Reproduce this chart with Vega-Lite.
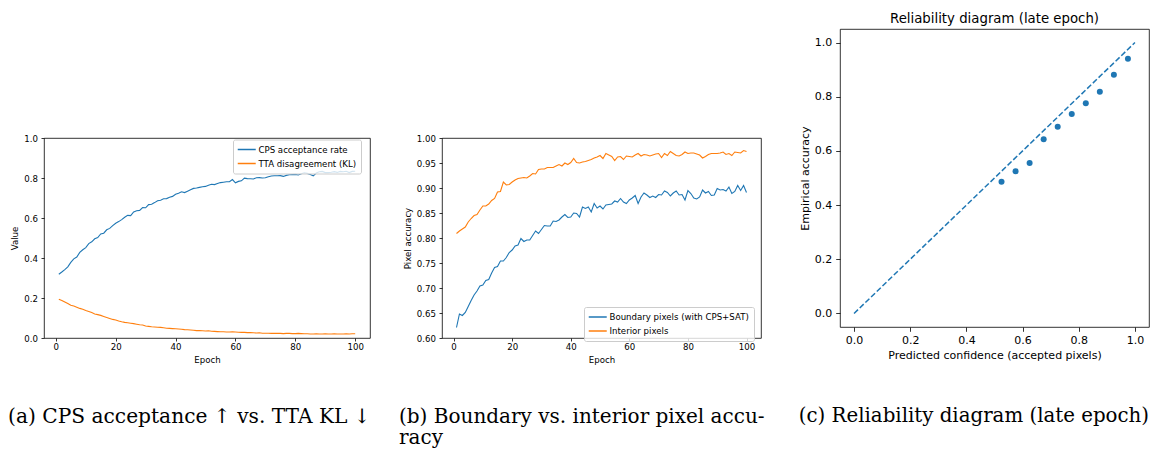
{
"$schema": "https://vega.github.io/schema/vega-lite/v6.json",
"background": "white",
"padding": {"left": 7, "top": 11, "right": 0, "bottom": 0},
"spacing": 33,
"config": {
  "font": "DejaVu Sans",
  "view": {"stroke": "black", "strokeWidth": 0.8},
  "axis": {"domain": false, "grid": false, "labelColor": "black", "titleColor": "black", "tickColor": "black", "tickWidth": 0.8, "titleFontWeight": "normal", "labelFont": "DejaVu Sans", "titleFont": "DejaVu Sans"},
  "title": {"font": "DejaVu Sans", "fontWeight": "normal", "color": "black"},
  "legend": {"title": null, "labelFont": "DejaVu Sans", "labelColor": "black", "strokeColor": "#cccccc", "fillColor": "rgba(255,255,255,0.8)", "cornerRadius": 2, "padding": 4.5, "symbolType": "M-1.17,0H2.83", "symbolStrokeWidth": 1.5, "symbolSize": 81, "labelOffset": 10, "rowPadding": 3, "labelFontSize": 8.6}
},
"datasets": {
  "curves": [
{"epoch":1,"cps":0.319,"kl":0.194,"bd":0.621,"ip":0.809},
{"epoch":2,"cps":0.330,"kl":0.188,"bd":0.648,"ip":0.814},
{"epoch":3,"cps":0.342,"kl":0.180,"bd":0.645,"ip":0.818},
{"epoch":4,"cps":0.356,"kl":0.172,"bd":0.651,"ip":0.822},
{"epoch":5,"cps":0.378,"kl":0.164,"bd":0.663,"ip":0.832},
{"epoch":6,"cps":0.396,"kl":0.160,"bd":0.675,"ip":0.839},
{"epoch":7,"cps":0.405,"kl":0.154,"bd":0.686,"ip":0.845},
{"epoch":8,"cps":0.428,"kl":0.148,"bd":0.694,"ip":0.847},
{"epoch":9,"cps":0.441,"kl":0.144,"bd":0.704,"ip":0.856},
{"epoch":10,"cps":0.452,"kl":0.138,"bd":0.706,"ip":0.864},
{"epoch":11,"cps":0.472,"kl":0.133,"bd":0.715,"ip":0.864},
{"epoch":12,"cps":0.481,"kl":0.127,"bd":0.717,"ip":0.868},
{"epoch":13,"cps":0.496,"kl":0.120,"bd":0.730,"ip":0.875},
{"epoch":14,"cps":0.502,"kl":0.117,"bd":0.741,"ip":0.879},
{"epoch":15,"cps":0.520,"kl":0.113,"bd":0.743,"ip":0.892},
{"epoch":16,"cps":0.524,"kl":0.108,"bd":0.754,"ip":0.893},
{"epoch":17,"cps":0.541,"kl":0.103,"bd":0.754,"ip":0.912},
{"epoch":18,"cps":0.548,"kl":0.098,"bd":0.761,"ip":0.906},
{"epoch":19,"cps":0.562,"kl":0.093,"bd":0.771,"ip":0.907},
{"epoch":20,"cps":0.574,"kl":0.090,"bd":0.776,"ip":0.912},
{"epoch":21,"cps":0.582,"kl":0.085,"bd":0.784,"ip":0.916},
{"epoch":22,"cps":0.592,"kl":0.081,"bd":0.786,"ip":0.919},
{"epoch":23,"cps":0.604,"kl":0.078,"bd":0.799,"ip":0.920},
{"epoch":24,"cps":0.613,"kl":0.076,"bd":0.793,"ip":0.921},
{"epoch":25,"cps":0.612,"kl":0.074,"bd":0.796,"ip":0.920},
{"epoch":26,"cps":0.630,"kl":0.072,"bd":0.796,"ip":0.924},
{"epoch":27,"cps":0.636,"kl":0.069,"bd":0.805,"ip":0.929},
{"epoch":28,"cps":0.638,"kl":0.066,"bd":0.814,"ip":0.928},
{"epoch":29,"cps":0.652,"kl":0.065,"bd":0.809,"ip":0.937},
{"epoch":30,"cps":0.651,"kl":0.060,"bd":0.817,"ip":0.938},
{"epoch":31,"cps":0.667,"kl":0.058,"bd":0.825,"ip":0.938},
{"epoch":32,"cps":0.669,"kl":0.056,"bd":0.824,"ip":0.941},
{"epoch":33,"cps":0.677,"kl":0.055,"bd":0.824,"ip":0.941},
{"epoch":34,"cps":0.686,"kl":0.054,"bd":0.834,"ip":0.941},
{"epoch":35,"cps":0.689,"kl":0.053,"bd":0.833,"ip":0.944},
{"epoch":36,"cps":0.696,"kl":0.051,"bd":0.836,"ip":0.947},
{"epoch":37,"cps":0.697,"kl":0.049,"bd":0.842,"ip":0.944},
{"epoch":38,"cps":0.704,"kl":0.048,"bd":0.847,"ip":0.950},
{"epoch":39,"cps":0.708,"kl":0.047,"bd":0.841,"ip":0.947},
{"epoch":40,"cps":0.719,"kl":0.046,"bd":0.842,"ip":0.951},
{"epoch":41,"cps":0.724,"kl":0.045,"bd":0.850,"ip":0.959},
{"epoch":42,"cps":0.731,"kl":0.044,"bd":0.849,"ip":0.951},
{"epoch":43,"cps":0.727,"kl":0.042,"bd":0.842,"ip":0.950},
{"epoch":44,"cps":0.734,"kl":0.041,"bd":0.862,"ip":0.952},
{"epoch":45,"cps":0.741,"kl":0.040,"bd":0.859,"ip":0.953},
{"epoch":46,"cps":0.748,"kl":0.039,"bd":0.862,"ip":0.955},
{"epoch":47,"cps":0.750,"kl":0.037,"bd":0.852,"ip":0.957},
{"epoch":48,"cps":0.753,"kl":0.037,"bd":0.869,"ip":0.960},
{"epoch":49,"cps":0.756,"kl":0.036,"bd":0.860,"ip":0.962},
{"epoch":50,"cps":0.758,"kl":0.035,"bd":0.864,"ip":0.965},
{"epoch":51,"cps":0.764,"kl":0.036,"bd":0.858,"ip":0.959},
{"epoch":52,"cps":0.769,"kl":0.034,"bd":0.866,"ip":0.969},
{"epoch":53,"cps":0.767,"kl":0.033,"bd":0.867,"ip":0.966},
{"epoch":54,"cps":0.772,"kl":0.032,"bd":0.868,"ip":0.963},
{"epoch":55,"cps":0.777,"kl":0.031,"bd":0.874,"ip":0.955},
{"epoch":56,"cps":0.779,"kl":0.031,"bd":0.872,"ip":0.962},
{"epoch":57,"cps":0.781,"kl":0.030,"bd":0.879,"ip":0.963},
{"epoch":58,"cps":0.781,"kl":0.030,"bd":0.872,"ip":0.957},
{"epoch":59,"cps":0.792,"kl":0.031,"bd":0.869,"ip":0.964},
{"epoch":60,"cps":0.776,"kl":0.030,"bd":0.876,"ip":0.963},
{"epoch":61,"cps":0.783,"kl":0.029,"bd":0.880,"ip":0.962},
{"epoch":62,"cps":0.786,"kl":0.028,"bd":0.885,"ip":0.966},
{"epoch":63,"cps":0.799,"kl":0.028,"bd":0.869,"ip":0.969},
{"epoch":64,"cps":0.797,"kl":0.027,"bd":0.882,"ip":0.964},
{"epoch":65,"cps":0.796,"kl":0.027,"bd":0.890,"ip":0.967},
{"epoch":66,"cps":0.795,"kl":0.026,"bd":0.886,"ip":0.966},
{"epoch":67,"cps":0.801,"kl":0.025,"bd":0.881,"ip":0.964},
{"epoch":68,"cps":0.802,"kl":0.026,"bd":0.884,"ip":0.966},
{"epoch":69,"cps":0.800,"kl":0.024,"bd":0.881,"ip":0.968},
{"epoch":70,"cps":0.801,"kl":0.024,"bd":0.887,"ip":0.969},
{"epoch":71,"cps":0.806,"kl":0.024,"bd":0.886,"ip":0.961},
{"epoch":72,"cps":0.810,"kl":0.023,"bd":0.894,"ip":0.969},
{"epoch":73,"cps":0.811,"kl":0.023,"bd":0.891,"ip":0.965},
{"epoch":74,"cps":0.811,"kl":0.024,"bd":0.884,"ip":0.973},
{"epoch":75,"cps":0.812,"kl":0.023,"bd":0.890,"ip":0.969},
{"epoch":76,"cps":0.808,"kl":0.022,"bd":0.894,"ip":0.965},
{"epoch":77,"cps":0.813,"kl":0.023,"bd":0.886,"ip":0.964},
{"epoch":78,"cps":0.816,"kl":0.023,"bd":0.887,"ip":0.967},
{"epoch":79,"cps":0.817,"kl":0.022,"bd":0.876,"ip":0.972},
{"epoch":80,"cps":0.818,"kl":0.022,"bd":0.895,"ip":0.969},
{"epoch":81,"cps":0.815,"kl":0.023,"bd":0.889,"ip":0.970},
{"epoch":82,"cps":0.821,"kl":0.022,"bd":0.880,"ip":0.970},
{"epoch":83,"cps":0.826,"kl":0.021,"bd":0.878,"ip":0.968},
{"epoch":84,"cps":0.823,"kl":0.021,"bd":0.882,"ip":0.966},
{"epoch":85,"cps":0.818,"kl":0.020,"bd":0.896,"ip":0.960},
{"epoch":86,"cps":0.811,"kl":0.020,"bd":0.890,"ip":0.963},
{"epoch":87,"cps":0.825,"kl":0.021,"bd":0.893,"ip":0.967},
{"epoch":88,"cps":0.831,"kl":0.020,"bd":0.885,"ip":0.969},
{"epoch":89,"cps":0.833,"kl":0.020,"bd":0.886,"ip":0.969},
{"epoch":90,"cps":0.827,"kl":0.021,"bd":0.899,"ip":0.969},
{"epoch":91,"cps":0.827,"kl":0.020,"bd":0.896,"ip":0.970},
{"epoch":92,"cps":0.829,"kl":0.020,"bd":0.897,"ip":0.972},
{"epoch":93,"cps":0.832,"kl":0.021,"bd":0.894,"ip":0.967},
{"epoch":94,"cps":0.828,"kl":0.020,"bd":0.902,"ip":0.969},
{"epoch":95,"cps":0.833,"kl":0.020,"bd":0.889,"ip":0.965},
{"epoch":96,"cps":0.831,"kl":0.020,"bd":0.893,"ip":0.972},
{"epoch":97,"cps":0.834,"kl":0.021,"bd":0.905,"ip":0.971},
{"epoch":98,"cps":0.827,"kl":0.020,"bd":0.895,"ip":0.970},
{"epoch":99,"cps":0.833,"kl":0.021,"bd":0.905,"ip":0.975},
{"epoch":100,"cps":0.834,"kl":0.021,"bd":0.891,"ip":0.973}
  ],
  "rel": [
{"conf":0.525,"acc":0.486},
{"conf":0.575,"acc":0.525},
{"conf":0.625,"acc":0.555},
{"conf":0.675,"acc":0.643},
{"conf":0.725,"acc":0.689},
{"conf":0.775,"acc":0.736},
{"conf":0.825,"acc":0.776},
{"conf":0.875,"acc":0.818},
{"conf":0.925,"acc":0.881},
{"conf":0.975,"acc":0.940}
  ],
  "diag": [
{"conf":0.0,"acc":0.0},
{"conf":1.0,"acc":1.0}
  ]
},
"hconcat": [
  {
    "spacing": 0,
    "vconcat": [
      {
        "width": 10, "height": 104,
        "view": {"stroke": null},
        "data": {"values": []},
        "mark": {"type": "point", "opacity": 0}
      },
      {
        "spacing": 26,
        "resolve": {"scale": {"color": "independent", "x": "independent", "y": "independent"}, "legend": {"color": "independent"}},
        "hconcat": [
          {
            "width": 326, "height": 200,
            "data": {"name": "curves"},
            "transform": [{"fold": ["cps", "kl"], "as": ["series", "value"]}],
            "mark": {"type": "line", "strokeWidth": 1.1},
            "encoding": {
              "x": {"field": "epoch", "type": "quantitative", "scale": {"domain": [-3.95, 104.95], "nice": false, "zero": false},
                    "axis": {"values": [0, 20, 40, 60, 80, 100], "title": "Epoch", "labelFontSize": 8.6, "titleFontSize": 8.6, "tickSize": 3, "labelPadding": 1.5, "titlePadding": 4}},
              "y": {"field": "value", "type": "quantitative", "scale": {"domain": [0, 1], "nice": false},
                    "axis": {"values": [0, 0.2, 0.4, 0.6, 0.8, 1.0], "format": ".1f", "title": "Value", "labelFontSize": 8.6, "titleFontSize": 8.6, "tickSize": 3, "labelPadding": 3.5, "titlePadding": 4}},
              "color": {"field": "series", "type": "nominal", "scale": {"domain": ["cps", "kl"], "range": ["#1f77b4", "#ff7f0e"]},
                        "legend": {"orient": "none", "legendX": 189, "legendY": 1.5, "labelExpr": "datum.value == 'cps' ? 'CPS acceptance rate' : 'TTA disagreement (KL)'"}}
            },
            "title": {"text": "(a) CPS acceptance ↑ vs. TTA KL ↓", "orient": "bottom", "anchor": "start", "frame": "group", "dx": -36, "offset": 43, "font": "DejaVu Serif", "fontSize": 20.2}
          },
          {
            "width": 319, "height": 200,
            "data": {"name": "curves"},
            "transform": [{"fold": ["bd", "ip"], "as": ["series", "value"]}],
            "mark": {"type": "line", "strokeWidth": 1.1},
            "encoding": {
              "x": {"field": "epoch", "type": "quantitative", "scale": {"domain": [-3.95, 104.95], "nice": false, "zero": false},
                    "axis": {"values": [0, 20, 40, 60, 80, 100], "title": "Epoch", "labelFontSize": 8.6, "titleFontSize": 8.6, "tickSize": 3, "labelPadding": 1.5, "titlePadding": 4}},
              "y": {"field": "value", "type": "quantitative", "scale": {"domain": [0.6, 1.0], "nice": false, "zero": false},
                    "axis": {"values": [0.6, 0.65, 0.7, 0.75, 0.8, 0.85, 0.9, 0.95, 1.0], "format": ".2f", "title": "Pixel accuracy", "labelFontSize": 8.6, "titleFontSize": 8.6, "tickSize": 3, "labelPadding": 3.5, "titlePadding": 4}},
              "color": {"field": "series", "type": "nominal", "scale": {"domain": ["bd", "ip"], "range": ["#1f77b4", "#ff7f0e"]},
                        "legend": {"orient": "none", "legendX": 142, "legendY": 169, "labelExpr": "datum.value == 'bd' ? 'Boundary pixels (with CPS+SAT)' : 'Interior pixels'"}}
            },
            "title": {"text": ["(b) Boundary vs. interior pixel accu-", "racy"], "orient": "bottom", "anchor": "start", "frame": "group", "dx": -43, "offset": 43, "font": "DejaVu Serif", "fontSize": 20, "lineHeight": 21.5}
          }
        ]
      }
    ]
  },
  {
    "title": {"text": "(c) Reliability diagram (late epoch)", "orient": "bottom", "anchor": "start", "offset": 45, "font": "DejaVu Serif", "fontSize": 19.8},
    "vconcat": [
      {
        "width": 309, "height": 298,
        "title": {"text": "Reliability diagram (late epoch)", "fontSize": 13.3, "offset": 4},
        "layer": [
          {
            "data": {"name": "diag"},
            "mark": {"type": "line", "strokeDash": [5.5, 2.4], "strokeWidth": 1.5, "color": "#1f77b4"},
            "encoding": {
              "x": {"field": "conf", "type": "quantitative", "scale": {"domain": [-0.05, 1.05], "nice": false, "zero": false},
                    "axis": {"values": [0, 0.2, 0.4, 0.6, 0.8, 1.0], "format": ".1f", "title": "Predicted confidence (accepted pixels)", "labelFontSize": 11, "titleFontSize": 11, "tickSize": 4.3, "labelPadding": 3.5, "titlePadding": 4}},
              "y": {"field": "acc", "type": "quantitative", "scale": {"domain": [-0.05, 1.05], "nice": false, "zero": false},
                    "axis": {"values": [0, 0.2, 0.4, 0.6, 0.8, 1.0], "format": ".1f", "title": "Empirical accuracy", "labelFontSize": 11, "titleFontSize": 11, "tickSize": 4.3, "labelPadding": 4, "titlePadding": 4}}
            }
          },
          {
            "data": {"name": "rel"},
            "mark": {"type": "circle", "size": 36, "opacity": 1, "color": "#1f77b4"},
            "encoding": {
              "x": {"field": "conf", "type": "quantitative"},
              "y": {"field": "acc", "type": "quantitative"}
            }
          }
        ]
      }
    ]
  }
]
}
